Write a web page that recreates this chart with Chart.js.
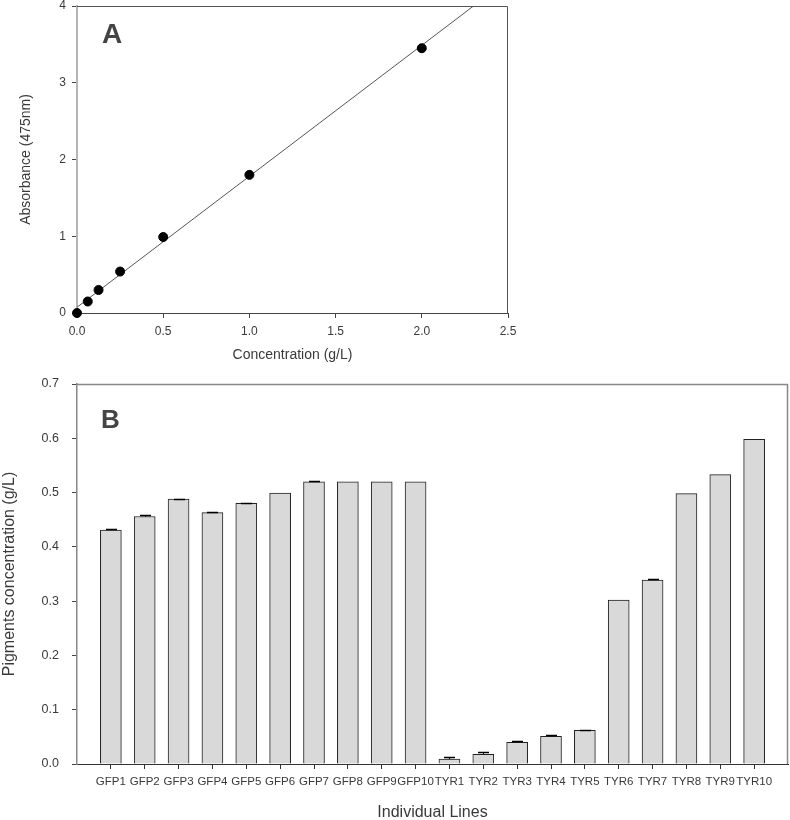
<!DOCTYPE html>
<html>
<head>
<meta charset="utf-8">
<script src="https://cdn.jsdelivr.net/npm/chart.js@4"></script>
<style>
  html, body { margin: 0; padding: 0; background: #fff; overflow: hidden; }
  canvas { position: absolute; left: 0; }
  #chartA { top: 0; }
  #chartB { top: 370px; }
  .tag { position: absolute; font-family: Arial, "Liberation Sans", sans-serif; font-weight: bold; color: #444; line-height: 1; }
</style>
</head>
<body>
<canvas id="chartA" width="520" height="370"></canvas>
<canvas id="chartB" width="790" height="452"></canvas>
<div class="tag" style="left:102px; top:20px; font-size:28px;">A</div>
<div class="tag" style="left:101px; top:406px; font-size:26px;">B</div>
<script>
// Panel A - standard curve
const concentration = [0, 0.0625, 0.125, 0.25, 0.5, 1.0, 2.0];
const absorbance = [0, 0.15, 0.30, 0.54, 0.99, 1.80, 3.45];
// regression line end points
const fitX = [0, 2.30];
const fitY = [0.075, 4.0];

// Panel B - pigment concentration per line
const lines = ['GFP1', 'GFP2', 'GFP3', 'GFP4', 'GFP5', 'GFP6', 'GFP7', 'GFP8', 'GFP9', 'GFP10',
               'TYR1', 'TYR2', 'TYR3', 'TYR4', 'TYR5', 'TYR6', 'TYR7', 'TYR8', 'TYR9', 'TYR10'];
const pigment = [0.431, 0.456, 0.488, 0.463, 0.480, 0.499, 0.520, 0.520, 0.520, 0.520,
                 0.009, 0.018, 0.040, 0.051, 0.062, 0.302, 0.339, 0.498, 0.533, 0.598];
const pigmentErr = [0.001, 0.003, 0.001, 0.001, 0.001, 0, 0.001, 0, 0, 0,
                    0.003, 0.004, 0.002, 0.002, 0.001, 0, 0.001, 0, 0, 0];

const FONT = 'Arial, "Liberation Sans", sans-serif';
const TEXT = '#3a3a3a';

// fixed axis box size, and no extra room for labels that stick out
function fixBox(size) {
  return s => {
    if (s.isHorizontal()) s.height = size; else s.width = size;
    s.paddingTop = 0; s.paddingBottom = 0; s.paddingLeft = 0; s.paddingRight = 0;
  };
}

// top and right border of the plot box
const frame = {
  id: 'frame',
  afterDraw(chart, args, opts) {
    const a = chart.chartArea;
    const ctx = chart.ctx;
    ctx.save();
    ctx.strokeStyle = opts.color || '#555';
    ctx.lineWidth = opts.width || 1;
    ctx.beginPath();
    ctx.moveTo(a.left, a.top + 0.5);
    ctx.lineTo(a.right - 0.5, a.top + 0.5);
    ctx.lineTo(a.right - 0.5, a.bottom);
    ctx.stroke();
    ctx.restore();
  }
};

const errorBars = {
  id: 'errorBars',
  afterDatasetsDraw(chart) {
    const meta = chart.getDatasetMeta(0);
    const y = chart.scales.y;
    const ctx = chart.ctx;
    ctx.save();
    ctx.strokeStyle = '#000';
    meta.data.forEach((bar, i) => {
      const k = i - 1;
      if (k < 0 || k >= pigment.length || !pigmentErr[k]) return;
      const top = Math.round(y.getPixelForValue(pigment[k] + pigmentErr[k])) + 0.5;
      const base = y.getPixelForValue(pigment[k]);
      const x = Math.round(bar.x) + 0.5;
      ctx.lineWidth = 1;
      ctx.beginPath();
      ctx.moveTo(x, base);
      ctx.lineTo(x, top);
      ctx.stroke();
      ctx.lineWidth = 1.5;
      ctx.beginPath();
      ctx.moveTo(x - 5.5, top);
      ctx.lineTo(x + 5.5, top);
      ctx.stroke();
    });
    ctx.restore();
  }
};

new Chart(document.getElementById('chartA'), {
  type: 'scatter',
  data: {
    datasets: [{
      data: concentration.map((c, i) => ({ x: c, y: absorbance[i] })),
      backgroundColor: '#000',
      borderColor: '#000',
      pointRadius: 4.5,
      pointHoverRadius: 4.5,
      clip: false,
      order: 0
    }, {
      data: fitX.map((c, i) => ({ x: c, y: fitY[i] })),
      showLine: true,
      borderColor: '#555',
      borderWidth: 1,
      pointRadius: 0,
      order: 1
    }]
  },
  options: {
    responsive: false,
    animation: false,
    layout: { padding: { top: 6, right: 12, left: 0, bottom: 0 } },
    plugins: { legend: { display: false }, tooltip: { enabled: false }, frame: { color: '#555', width: 1 } },
    scales: {
      x: {
        type: 'linear', min: 0, max: 2.5,
        afterFit: fixBox(57),
        border: { color: '#444', width: 1 },
        grid: { drawOnChartArea: false, tickLength: 5, color: '#444' },
        ticks: { stepSize: 0.5, padding: 6, color: TEXT, font: { family: FONT, size: 12 }, callback: v => v.toFixed(1) },
        title: { display: true, text: 'Concentration (g/L)', color: TEXT, font: { family: FONT, size: 14 }, padding: { top: 0, bottom: 6 } }
      },
      y: {
        min: 0, max: 4,
        afterFit: fixBox(77),
        border: { color: '#b5b5b5', width: 2 },
        grid: { drawOnChartArea: false, tickLength: 5, color: '#444' },
        ticks: { stepSize: 1, padding: 6, color: TEXT, font: { family: FONT, size: 12 } },
        title: { display: true, text: 'Absorbance (475nm)', color: TEXT, font: { family: FONT, size: 14 }, padding: { top: 18, bottom: 0 } }
      }
    }
  },
  plugins: [frame]
});

// empty slots at both ends give a full step of space before the first and after the last bar
const labelsB = [''].concat(lines, ['']);
const dataB = [null].concat(pigment, [null]);

new Chart(document.getElementById('chartB'), {
  type: 'bar',
  data: {
    labels: labelsB,
    datasets: [{
      data: dataB,
      backgroundColor: '#d9d9d9',
      borderColor: '#222',
      borderWidth: 1,
      barThickness: 21
    }]
  },
  options: {
    responsive: false,
    animation: false,
    layout: { padding: { top: 14, right: 2, left: 0, bottom: 0 } },
    plugins: { legend: { display: false }, tooltip: { enabled: false }, frame: { color: '#888', width: 1.5 } },
    scales: {
      x: {
        offset: false,
        afterFit: fixBox(58),
        border: { color: '#333', width: 1 },
        grid: {
          offset: false, drawOnChartArea: false, tickLength: 5,
          tickColor: ctx => (ctx.index === 0 || ctx.index === labelsB.length - 1) ? 'rgba(0,0,0,0)' : '#333'
        },
        ticks: { autoSkip: false, maxRotation: 0, padding: 6, color: TEXT, font: { family: FONT, size: 11.5 } },
        title: { display: true, text: 'Individual Lines', color: TEXT, font: { family: FONT, size: 16 }, padding: { top: 0, bottom: 0 } }
      },
      y: {
        min: 0, max: 0.7,
        afterFit: fixBox(77),
        border: { color: '#888', width: 1.5 },
        grid: { drawOnChartArea: false, tickLength: 5, color: '#444' },
        ticks: { stepSize: 0.1, padding: 13, color: TEXT, font: { family: FONT, size: 12.5 }, callback: v => v.toFixed(1) },
        title: { display: true, text: 'Pigments concentration (g/L)', color: TEXT, font: { family: FONT, size: 16 }, padding: { top: 0, bottom: 0 } }
      }
    }
  },
  plugins: [frame, errorBars]
});
</script>
</body>
</html>
